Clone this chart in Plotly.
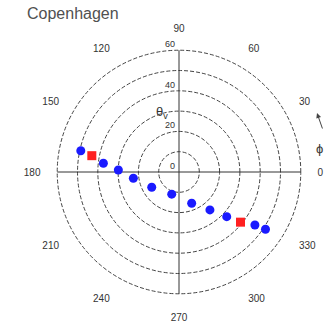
import plotly.graph_objects as go

# Sky track over Copenhagen: viewing zenith angle (deg) vs azimuth phi (deg)
blue_theta_v = [49.5, 37.5, 29.9, 22.7, 15.4, 11.5, 16.6, 24.1, 32.2, 45.6, 51.1]
blue_phi = [167.8, 173.4, 178.1, 187.8, 209.3, 251.8, 292.1, 309.2, 316.9, 325.1, 326.5]
red_theta_v = [43.7, 39.1]
red_phi = [169.4, 320.8]

ring_values = [0, 10, 20, 30, 40, 50, 60]
labelled_rings = [0, 20, 40, 60]
azimuth_values = [0, 30, 60, 90, 120, 150, 180, 210, 240, 270, 300, 330]
azimuth_labels = [str(v) for v in azimuth_values]

W, H = 333, 326
cx, cy, R = 179, 172, 123
R_MAX = 60.6

fig = go.Figure()

# solid cross-hair axes through the zenith
for a in (0, 90):
    fig.add_trace(go.Scatterpolar(
        r=[60, 0, 60], theta=[a, a, a + 180], mode="lines",
        line=dict(color="#333333", width=1), hoverinfo="skip"))

fig.add_trace(go.Scatterpolar(
    r=blue_theta_v, theta=blue_phi, mode="markers",
    marker=dict(symbol="circle", size=9, color="#1a1aff")))
fig.add_trace(go.Scatterpolar(
    r=red_theta_v, theta=red_phi, mode="markers",
    marker=dict(symbol="square", size=9, color="#ff2020")))

# zenith-angle labels sit just above each labelled ring, left of the vertical axis
ring_annotations = []
for v in labelled_rings:
    ring_annotations.append(dict(
        text=str(v), x=(cx - 2) / W, y=1 - (cy - R * v / R_MAX - 6) / H,
        xref="paper", yref="paper", xanchor="right", yanchor="middle",
        showarrow=False, font=dict(size=9, color="#333333")))

fig.update_layout(
    width=W, height=H,
    margin=dict(l=0, r=0, t=0, b=0),
    paper_bgcolor="white", plot_bgcolor="white",
    showlegend=False,
    font=dict(family="Liberation Sans, Arial, sans-serif", color="#333333"),
    polar=dict(
        domain=dict(x=[(cx - R) / W, (cx + R) / W],
                    y=[(H - cy - R) / H, (H - cy + R) / H]),
        bgcolor="white",
        radialaxis=dict(
            range=[0, R_MAX], angle=90,
            tickvals=ring_values, showticklabels=False,
            showline=False, ticks="",
            showgrid=True, gridcolor="#444444", gridwidth=1, griddash="4px,2px"),
        angularaxis=dict(
            rotation=0, direction="counterclockwise",
            tickvals=azimuth_values, ticktext=azimuth_labels,
            showline=False, showgrid=False,
            ticks="outside", ticklen=13, tickcolor="rgba(0,0,0,0)",
            tickfont=dict(size=10, color="#333333")),
    ),
    title=dict(text="Copenhagen", x=27 / W, xanchor="left",
               y=1 - 13 / H, yanchor="middle",
               font=dict(size=16, color="#505050")),
    annotations=ring_annotations + [
        dict(text="θ<sub>v</sub>", x=162 / W, y=1 - 102 / H,
             xref="paper", yref="paper", showarrow=False,
             font=dict(size=13, color="#333333")),
        dict(text="ϕ", x=325 / W, y=1 - 148 / H,
             xref="paper", yref="paper", showarrow=False,
             font=dict(size=13, color="#333333")),
        dict(text=" ", x=317 / W, y=1 - 113 / H, xref="paper", yref="paper",
             showarrow=True, ax=7, ay=20, arrowhead=2, arrowsize=1,
             arrowwidth=1, arrowcolor="#444444", font=dict(size=6)),
    ],
)

fig.write_html("out.html")
